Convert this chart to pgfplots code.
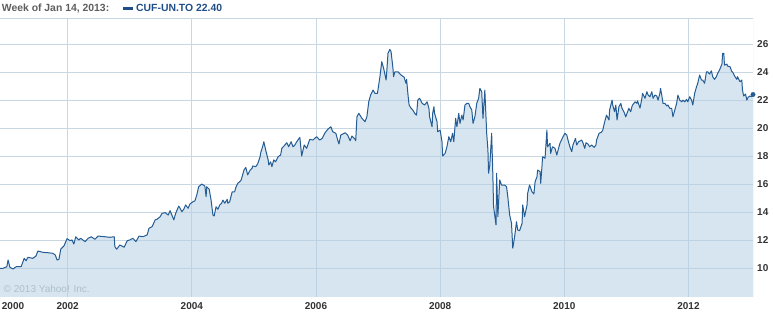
\documentclass[border=0pt]{standalone}
\usepackage{fontspec}
\setmainfont{Liberation Sans}
\usepackage{pgfplots}
\usepackage{pgfplotstable}
\pgfplotsset{compat=1.18}
\definecolor{linec}{HTML}{245C93}
\definecolor{fillc}{HTML}{B4D0E4}
\definecolor{gridc}{HTML}{C9D7E2}
\definecolor{tickc}{HTML}{333333}
\definecolor{headc}{HTML}{5E5E5E}
\definecolor{bluec}{HTML}{1F4E87}
\definecolor{copyc}{HTML}{AEBFCC}
\pgfplotstableread{
yr val
2000.91 10.00
2000.96 10.00
2001.02 10.11
2001.04 10.59
2001.07 10.07
2001.12 9.95
2001.17 10.11
2001.25 10.11
2001.30 10.71
2001.33 10.54
2001.36 10.78
2001.44 10.71
2001.49 10.88
2001.52 11.23
2001.60 11.14
2001.68 11.11
2001.76 11.07
2001.80 10.95
2001.83 10.59
2001.86 10.64
2001.89 11.38
2001.94 11.59
2001.99 12.11
2002.04 11.97
2002.07 12.02
2002.10 11.73
2002.13 12.25
2002.18 12.02
2002.21 12.14
2002.28 11.90
2002.33 12.14
2002.38 12.25
2002.44 12.07
2002.49 12.30
2002.60 12.25
2002.68 12.21
2002.75 12.25
2002.76 11.54
2002.79 11.36
2002.84 11.66
2002.91 11.50
2002.96 11.97
2003.00 12.02
2003.05 12.14
2003.10 11.90
2003.15 12.30
2003.21 12.25
2003.28 12.38
2003.31 12.85
2003.36 12.97
2003.41 13.45
2003.44 13.50
2003.49 13.68
2003.52 13.92
2003.57 13.97
2003.62 13.80
2003.65 14.11
2003.71 13.45
2003.74 13.92
2003.79 14.44
2003.84 14.04
2003.87 14.21
2003.90 14.52
2003.94 14.28
2003.97 14.59
2004.02 14.75
2004.05 14.82
2004.08 15.23
2004.11 15.82
2004.16 16.01
2004.21 15.87
2004.23 15.11
2004.24 15.82
2004.28 15.64
2004.31 14.87
2004.34 13.80
2004.36 13.73
2004.39 14.39
2004.42 14.21
2004.45 14.52
2004.48 14.64
2004.50 14.87
2004.53 14.64
2004.57 14.92
2004.58 14.64
2004.61 14.75
2004.65 15.46
2004.69 15.46
2004.71 15.78
2004.74 16.06
2004.79 16.25
2004.81 16.53
2004.84 17.01
2004.87 17.20
2004.90 16.66
2004.94 17.01
2004.97 17.13
2004.98 17.30
2005.03 17.25
2005.06 17.44
2005.10 17.96
2005.11 18.25
2005.14 18.67
2005.16 19.03
2005.19 18.44
2005.23 17.73
2005.24 17.37
2005.27 17.60
2005.29 17.25
2005.32 17.73
2005.35 17.60
2005.39 17.96
2005.43 18.08
2005.45 18.56
2005.50 18.80
2005.53 18.96
2005.56 18.67
2005.60 19.03
2005.63 18.67
2005.66 18.80
2005.69 19.03
2005.74 19.34
2005.77 18.01
2005.81 18.80
2005.85 18.56
2005.90 19.20
2005.95 19.15
2006.01 19.39
2006.06 19.15
2006.10 19.27
2006.14 19.63
2006.19 19.92
2006.24 20.10
2006.27 19.74
2006.32 19.63
2006.35 19.15
2006.37 18.87
2006.40 19.51
2006.47 19.67
2006.51 19.51
2006.55 19.10
2006.58 19.44
2006.63 19.20
2006.64 19.10
2006.66 20.81
2006.69 21.06
2006.74 20.70
2006.79 20.46
2006.82 20.81
2006.85 21.88
2006.88 22.36
2006.92 22.72
2006.95 22.48
2006.99 22.48
2007.03 23.67
2007.06 24.74
2007.09 24.27
2007.13 23.43
2007.14 24.02
2007.16 25.34
2007.19 25.62
2007.21 25.45
2007.24 24.27
2007.25 23.67
2007.27 24.02
2007.32 24.02
2007.37 23.79
2007.42 23.64
2007.43 23.48
2007.45 23.20
2007.46 23.48
2007.48 22.48
2007.50 21.65
2007.53 21.43
2007.56 21.29
2007.59 21.06
2007.62 20.93
2007.64 22.00
2007.67 22.13
2007.71 21.77
2007.75 21.65
2007.79 21.88
2007.82 21.41
2007.83 20.81
2007.87 20.10
2007.88 21.06
2007.90 21.53
2007.91 21.06
2007.95 20.46
2007.96 19.74
2008.00 19.86
2008.03 19.03
2008.04 18.01
2008.08 18.20
2008.11 18.67
2008.12 18.92
2008.14 19.39
2008.17 19.03
2008.20 19.63
2008.22 19.03
2008.25 20.70
2008.27 20.10
2008.30 21.06
2008.32 20.34
2008.35 20.93
2008.37 20.58
2008.40 21.65
2008.43 21.77
2008.46 21.77
2008.48 21.53
2008.51 21.29
2008.53 20.34
2008.56 20.81
2008.59 21.77
2008.62 22.13
2008.64 22.84
2008.67 22.60
2008.69 20.70
2008.72 22.72
2008.75 19.63
2008.77 18.44
2008.78 16.78
2008.80 17.37
2008.83 19.63
2008.85 16.53
2008.86 14.44
2008.90 13.09
2008.91 16.78
2008.93 13.68
2008.96 16.30
2008.99 15.94
2009.04 15.94
2009.07 15.82
2009.09 15.11
2009.12 13.80
2009.15 13.21
2009.17 11.43
2009.20 12.25
2009.23 13.32
2009.25 12.73
2009.28 12.68
2009.32 13.21
2009.33 14.52
2009.36 13.68
2009.40 14.52
2009.41 15.35
2009.44 15.94
2009.48 15.46
2009.51 15.30
2009.53 16.18
2009.56 16.53
2009.57 17.01
2009.61 16.89
2009.62 16.06
2009.64 17.25
2009.65 17.96
2009.69 17.85
2009.72 19.87
2009.73 18.67
2009.77 18.92
2009.78 18.20
2009.81 18.67
2009.85 18.56
2009.88 18.08
2009.90 18.44
2009.93 18.92
2009.98 19.39
2010.01 19.63
2010.04 19.51
2010.06 19.15
2010.09 18.67
2010.12 18.32
2010.14 18.80
2010.18 19.27
2010.20 18.80
2010.23 19.03
2010.28 19.15
2010.30 18.96
2010.33 18.56
2010.35 18.96
2010.38 18.87
2010.41 18.67
2010.44 18.80
2010.48 18.63
2010.51 18.80
2010.52 19.15
2010.56 19.63
2010.60 19.72
2010.62 19.86
2010.65 20.44
2010.68 20.93
2010.72 20.58
2010.73 21.29
2010.77 22.00
2010.78 21.65
2010.81 21.17
2010.83 21.65
2010.85 20.58
2010.88 21.53
2010.91 21.77
2010.93 21.41
2010.96 21.17
2010.99 20.81
2011.02 21.17
2011.04 21.41
2011.07 21.17
2011.09 21.53
2011.10 21.65
2011.14 21.88
2011.17 21.77
2011.18 21.95
2011.22 21.43
2011.25 22.13
2011.26 22.48
2011.30 22.13
2011.33 22.60
2011.35 22.36
2011.38 22.24
2011.41 22.60
2011.43 22.13
2011.46 22.36
2011.49 22.29
2011.51 22.00
2011.54 22.48
2011.55 22.84
2011.57 22.36
2011.59 21.77
2011.62 21.77
2011.65 21.58
2011.67 21.65
2011.70 21.41
2011.73 21.41
2011.75 20.81
2011.78 21.29
2011.81 21.77
2011.83 22.36
2011.86 22.00
2011.89 21.88
2011.91 22.00
2011.94 21.88
2011.97 22.05
2011.99 21.88
2012.02 22.24
2012.05 22.00
2012.07 21.65
2012.10 22.48
2012.13 22.95
2012.15 23.20
2012.18 23.79
2012.21 23.43
2012.23 23.43
2012.26 23.20
2012.29 24.02
2012.31 24.02
2012.34 23.86
2012.37 24.09
2012.39 23.67
2012.42 23.48
2012.45 23.67
2012.47 23.91
2012.50 24.14
2012.54 24.57
2012.55 25.34
2012.57 25.34
2012.58 24.50
2012.62 24.57
2012.63 24.43
2012.67 24.38
2012.70 24.02
2012.71 24.02
2012.75 23.67
2012.78 23.48
2012.79 23.67
2012.83 23.31
2012.86 23.43
2012.87 22.72
2012.89 22.29
2012.92 22.43
2012.94 22.00
2012.96 22.20
2012.99 22.29
2013.02 22.24
2013.04 22.40
}\pricedata
\begin{document}
\begin{tikzpicture}
\path[use as bounding box] (0,0) rectangle (773pt,312pt);
\begin{axis}[
  at={(0pt,15pt)}, anchor=south west,
  scale only axis, width=753pt, height=279pt,
  xmin=2000.91, xmax=2013.04,
  ymin=7.95, ymax=27.86,
  axis line style={draw=none},
  major tick length=0pt,
  xtick={2002,2004,2006,2008,2010,2012},
  xticklabels={2002,2004,2006,2008,2010,2012},
  extra x ticks={2001.12},
  extra x tick labels={2000},
  extra x tick style={grid=none},
  ytick={10,12,14,16,18,20,22,24,26},
  yticklabels={10,12,14,16,18,20,22,24,26},
  yticklabel pos=right,
  xmajorgrids, ymajorgrids,
  grid style={gridc, line width=0.9pt},
  xticklabel style={anchor=north, inner sep=0pt, yshift=-5.8pt, font=\bfseries\fontsize{10}{12}\selectfont, text=tickc},
  yticklabel style={anchor=west, inner sep=0pt, xshift=4pt, font=\bfseries\fontsize{10}{12}\selectfont, text=tickc},
]
\addplot[draw=none, fill=fillc, fill opacity=0.55] table[x=yr, y=val] {\pricedata} \closedcycle;
\addplot[linec, line width=1pt, line join=round] table[x=yr, y=val] {\pricedata};
\addplot[only marks, mark=*, mark size=2.2pt, linec] coordinates {(2013.04,22.40)};
\draw[gridc, line width=0.9pt] (rel axis cs:0,1) -- (rel axis cs:1,1) -- (rel axis cs:1,0) -- (rel axis cs:0,0);
\end{axis}
\node[anchor=base west, inner sep=0pt, text=headc, font=\bfseries\fontsize{10.4}{12}\selectfont] at (1.7pt,300pt) {Week of Jan 14, 2013:};
\fill[bluec] (122.7pt,302pt) rectangle (132.7pt,304.8pt);
\node[anchor=base west, inner sep=0pt, text=bluec, font=\bfseries\fontsize{10.4}{12}\selectfont] at (136pt,300pt) {CUF-UN.TO 22.40};
\node[anchor=base west, inner sep=0pt, text=copyc, font=\fontsize{10}{12}\selectfont] at (3.5pt,19pt) {© 2013 Yahoo! Inc.};
\end{tikzpicture}
\end{document}
